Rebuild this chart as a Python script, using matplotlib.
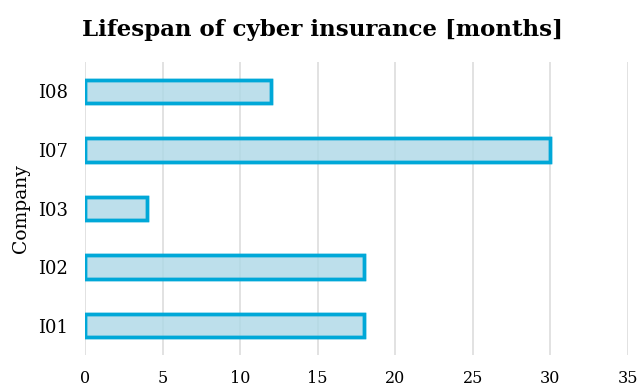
import matplotlib.pyplot as plt

# data
companies = ['I01', 'I02', 'I03', 'I07', 'I08']
lifespan = [18, 18, 4, 30, 12]
x_ticks = [0, 5, 10, 15, 20, 25, 30, 35]

plt.rcParams['font.family'] = ['DejaVu Serif']

fig = plt.figure(figsize=(6.38, 3.89), dpi=100)
ax = fig.add_axes([85 / 638, 34 / 389, 543 / 638, 293 / 389])

ax.barh(companies, lifespan, height=0.4, color='#add8e6', alpha=0.8,
        edgecolor='#00a8d8', linewidth=2.5, zorder=3)
ax.barh(companies, lifespan, height=0.4, fill=False,
        edgecolor='#00a8d8', linewidth=2.5, zorder=4)

ax.set_xlim(0, 35)
ax.set_ylim(-0.5, 4.5)
ax.set_xticks(x_ticks)
ax.grid(axis='x', color='#dddddd', linewidth=1.2, zorder=5)
ax.set_axisbelow(False)
for s in ax.spines.values():
    s.set_visible(False)
ax.tick_params(axis='both', length=0)
ax.tick_params(axis='x', pad=11, labelsize=11.5)
ax.tick_params(axis='y', pad=12, labelsize=13)
ax.set_ylabel('Company', fontsize=13.5, labelpad=6)

fig.suptitle('Lifespan of cyber insurance [months]', x=0.505, y=0.95,
             fontsize=16.5, fontweight='bold')

fig.savefig('out.png', dpi=100)
